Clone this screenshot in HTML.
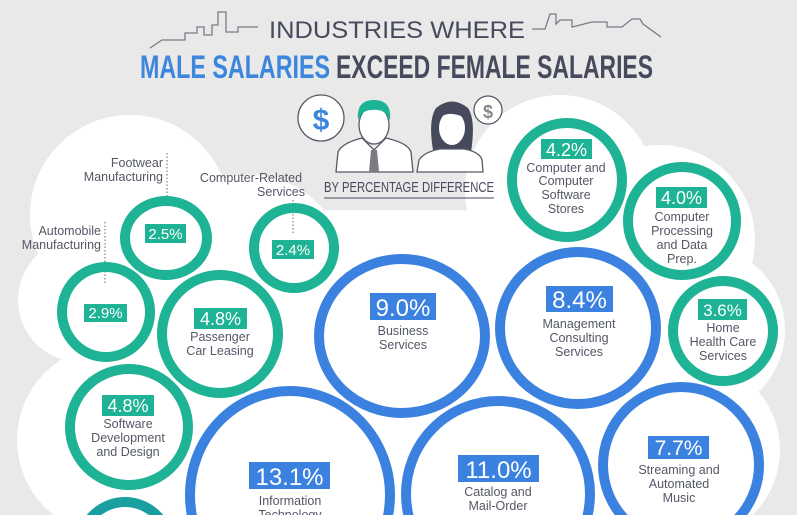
<!DOCTYPE html>
<html><head><meta charset="utf-8"><style>
html,body{margin:0;padding:0;background:#e9e9ea;width:797px;height:515px;overflow:hidden;}
svg{display:block}
.lb{font-family:"Liberation Sans",sans-serif;fill:#545866;font-size:12.5px;text-anchor:middle}
.pc{font-family:"Liberation Sans",sans-serif;fill:#fff;text-anchor:middle;font-weight:normal}
</style></head><body>
<svg width="797" height="515" viewBox="0 0 797 515" xmlns="http://www.w3.org/2000/svg">
<rect width="797" height="515" fill="#e9e9ea"/>
<!-- cloud -->
<g fill="#fff">
<circle cx="130" cy="215" r="100"/>
<circle cx="80" cy="300" r="62"/>
<circle cx="250" cy="270" r="95"/>
<circle cx="112" cy="440" r="95"/>
<circle cx="200" cy="420" r="140"/>
<circle cx="420" cy="380" r="150"/>
<circle cx="560" cy="190" r="95"/>
<circle cx="660" cy="240" r="95"/>
<circle cx="700" cy="330" r="85"/>
<circle cx="690" cy="450" r="90"/>
<circle cx="560" cy="420" r="130"/>
<rect x="150" y="210" width="560" height="305"/>
</g>
<!-- title -->
<g fill="none" stroke="#7a7d88" stroke-width="1.3">
<polyline points="150,48 162,40 185,40 185,33 197,33 197,27 204,27 204,35 212,35 212,25 218,25 218,12 226,12 226,32 238,32 238,27 258,27"/>
<polyline points="532,29 545,29 550,14 556,14 556,24 560,20 572,20 572,27 592,22 607,22 607,27 622,27 632,19 640,19 643,24 661,37"/>
</g>
<text x="397" y="38" text-anchor="middle" font-family="Liberation Sans,sans-serif" font-size="24" fill="#474a5c" textLength="256" lengthAdjust="spacingAndGlyphs">INDUSTRIES WHERE</text>
<text x="140" y="78" font-family="Liberation Sans,sans-serif" font-weight="bold" font-size="32" fill="#3d86dd" textLength="190" lengthAdjust="spacingAndGlyphs">MALE SALARIES</text>
<text x="336" y="78" font-family="Liberation Sans,sans-serif" font-weight="bold" font-size="32" fill="#474a5c" textLength="317" lengthAdjust="spacingAndGlyphs">EXCEED FEMALE SALARIES</text>
<!-- icons -->
<circle cx="321" cy="118" r="23" fill="#fff" stroke="#555a66" stroke-width="1.3"/>
<text x="321" y="130" text-anchor="middle" font-family="Liberation Sans,sans-serif" font-weight="bold" font-size="30" fill="#3d86dd">$</text>
<circle cx="488" cy="110" r="14" fill="#fff" stroke="#555a66" stroke-width="1.3"/>
<text x="488" y="118" text-anchor="middle" font-family="Liberation Sans,sans-serif" font-weight="bold" font-size="18" fill="#888">$</text>
<path d="M336,172 L338,152 Q342,143 362,138 L374,150 L386,138 Q408,143 411,152 L413,172 Z" fill="#fff" stroke="#555a66" stroke-width="1.3"/>
<polygon points="371,150 377,150 379,172 369,172" fill="#7b7b82"/>
<ellipse cx="374" cy="125" rx="15" ry="19" fill="#fff" stroke="#555a66" stroke-width="1.3"/>
<path d="M358,120 Q356,100 374,100 Q392,100 390,120 Q385,108 372,110 Q362,110 358,120 Z" fill="#1db394"/>
<path d="M433,150 Q428,120 436,108 Q452,95 468,108 Q476,120 471,152 Z" fill="#474a5c"/>
<path d="M417,172 L419,160 Q424,152 440,149 L464,149 Q480,152 482,160 L483,172 Z" fill="#fff" stroke="#555a66" stroke-width="1.3"/>
<ellipse cx="452" cy="128" rx="13" ry="17" fill="#fff"/>
<path d="M438,122 Q444,108 466,118 L466,112 Q452,100 438,112 Z" fill="#474a5c"/>
<text x="409" y="192" text-anchor="middle" font-family="Liberation Sans,sans-serif" font-size="15" fill="#474a5c" textLength="170" lengthAdjust="spacingAndGlyphs">BY PERCENTAGE DIFFERENCE</text>
<line x1="324" y1="198" x2="494" y2="198" stroke="#474a5c" stroke-width="1"/>
<!-- dotted leaders -->
<g stroke="#666" stroke-width="1" stroke-dasharray="1.5,2">
<line x1="167" y1="153" x2="167" y2="196"/>
<line x1="293" y1="200" x2="293" y2="235"/>
<line x1="105" y1="222" x2="105" y2="283"/>
</g>
<g class="lb">
<text x="163" y="167" style="text-anchor:end">Footwear</text>
<text x="163" y="181" style="text-anchor:end">Manufacturing</text>
<text x="251" y="182">Computer-Related</text>
<text x="281" y="196">Services</text>
<text x="101" y="235" style="text-anchor:end">Automobile</text>
<text x="101" y="249" style="text-anchor:end">Manufacturing</text>
</g>
<!-- teal rings -->
<g fill="none" stroke="#1db394" stroke-width="10">
<ellipse cx="166" cy="238" rx="41" ry="37"/>
<ellipse cx="294" cy="248" rx="40" ry="40"/>
<ellipse cx="106" cy="312" rx="44" ry="45"/>
<ellipse cx="220" cy="334" rx="58" ry="59"/>
<ellipse cx="129" cy="427" rx="59" ry="58"/>
<ellipse cx="125" cy="550" rx="46" ry="48" stroke="#1a9fa0"/>
<ellipse cx="567" cy="180" rx="55" ry="57"/>
<ellipse cx="682" cy="221" rx="54" ry="54"/>
<ellipse cx="723" cy="331" rx="50" ry="50"/>
</g>
<!-- blue rings -->
<g fill="none" stroke="#3b82e0" stroke-width="10">
<ellipse cx="402" cy="336" rx="83" ry="77"/>
<ellipse cx="578" cy="328" rx="78" ry="76"/>
<ellipse cx="290" cy="495" rx="100" ry="104"/>
<ellipse cx="498" cy="494" rx="92" ry="93"/>
<ellipse cx="681" cy="465" rx="78" ry="78"/>
</g>
<!-- boxes -->
<g fill="#1db394">
<rect x="145" y="224" width="41" height="19"/>
<rect x="272" y="240" width="42" height="19"/>
<rect x="84" y="304" width="43" height="18"/>
<rect x="194" y="308" width="53" height="21"/>
<rect x="102" y="395" width="52" height="21"/>
<rect x="541" y="139" width="51" height="20"/>
<rect x="656" y="187" width="51" height="21"/>
<rect x="698" y="299" width="49" height="21"/>
</g>
<g fill="#3b82e0">
<rect x="370" y="293" width="66" height="27"/>
<rect x="546" y="286" width="67" height="26"/>
<rect x="249" y="462" width="81" height="27"/>
<rect x="458" y="455" width="81" height="27"/>
<rect x="648" y="436" width="61" height="23"/>
</g>
<g class="pc">
<text x="165.5" y="239" font-size="15">2.5%</text>
<text x="293" y="255" font-size="15">2.4%</text>
<text x="105.5" y="318" font-size="15">2.9%</text>
<text x="220.5" y="325" font-size="18">4.8%</text>
<text x="128" y="412" font-size="18">4.8%</text>
<text x="566.5" y="156" font-size="18">4.2%</text>
<text x="681.5" y="204" font-size="18">4.0%</text>
<text x="722.5" y="316" font-size="17">3.6%</text>
<text x="403" y="316" font-size="24">9.0%</text>
<text x="579.5" y="308" font-size="24">8.4%</text>
<text x="289.5" y="485" font-size="24">13.1%</text>
<text x="498.5" y="478" font-size="24">11.0%</text>
<text x="678.5" y="455" font-size="21">7.7%</text>
</g>
<g class="lb">
<text x="220" y="341">Passenger</text><text x="220" y="355">Car Leasing</text>
<text x="128" y="428">Software</text><text x="128" y="442">Development</text><text x="128" y="456">and Design</text>
<text x="566" y="172">Computer and</text><text x="566" y="185">Computer</text><text x="566" y="199">Software</text><text x="566" y="213">Stores</text>
<text x="682" y="221">Computer</text><text x="682" y="235">Processing</text><text x="682" y="249">and Data</text><text x="682" y="263">Prep.</text>
<text x="723" y="332">Home</text><text x="723" y="346">Health Care</text><text x="723" y="360">Services</text>
<text x="403" y="335">Business</text><text x="403" y="349">Services</text>
<text x="579" y="328">Management</text><text x="579" y="342">Consulting</text><text x="579" y="356">Services</text>
<text x="290" y="505">Information</text><text x="290" y="519">Technology</text>
<text x="498" y="496">Catalog and</text><text x="498" y="510">Mail-Order</text><text x="498" y="524">Houses</text>
<text x="679" y="474">Streaming and</text><text x="679" y="488">Automated</text><text x="679" y="502">Music</text>
</g>
</svg>
</body></html>
